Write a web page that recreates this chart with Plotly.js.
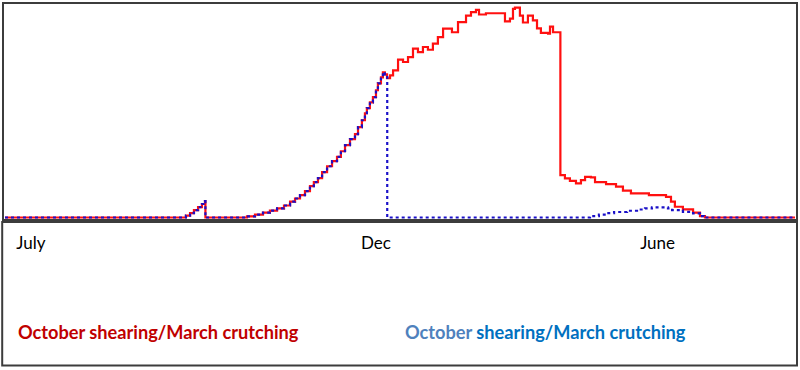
<!DOCTYPE html>
<html>
<head>
<meta charset="utf-8">
<script src="https://cdn.plot.ly/plotly-3.0.1.min.js"></script>
<style>
html,body{margin:0;padding:0;background:#fff;}
#chart{width:800px;height:370px;}
</style>
</head>
<body>
<div id="chart"></div>
<script>
// Day of season (0 = start of July) and relative level (0-100)
const redDays = [0,82.2,83.6,85.5,87.3,89.2,91.0,92.4,92.6,111.8,115.5,119.2,122.4,125.7,128.9,131.7,134.0,136.3,138.6,140.9,142.7,144.6,146.5,148.8,151.1,153.4,155.2,157.1,159.4,161.7,163.1,164.9,166.3,167.2,168.6,170.0,171.4,172.3,173.7,174.6,175.5,176.5,177.9,179.3,181.6,183.9,186.2,188.5,190.8,193.1,195.4,197.7,200.0,202.4,206.5,209.3,213.0,215.3,217.6,219.0,222.2,231.0,233.3,234.7,235.6,237.9,239.3,241.6,243.9,245.8,247.6,250.9,251.8,253.2,256.6,258.7,261.0,263.8,266.1,268.0,270.7,272.6,277.7,282.3,285.5,289.2,297.5,305.4,307.7,309.5,313.2,317.9,321.1,323.4,365];
const redLevel = [0,0,0.9,2.1,3.5,4.9,6.4,7.8,0,0.5,1.4,2.3,3.3,4.3,5.7,7.5,9.0,10.6,12.5,14.9,16.8,18.7,21.5,24.3,26.7,28.7,31.4,34.3,37.1,39.5,42.8,46.1,49.4,51.8,54.6,57.0,60.3,63.6,66.4,68.8,67.8,66.0,67.4,69.7,74.8,73.7,76.0,80.0,78.4,80.8,79.5,82.4,85.5,89.5,87.8,92.6,95.7,97.3,98.4,96.2,96.8,92.9,94.2,98.9,99.5,95.7,92.4,95.7,93.4,89.6,87.5,87.1,90.5,87.8,20.1,18.5,17.4,16.2,17.7,19.3,19.0,16.8,15.8,14.6,12.7,11.4,10.6,9.8,7.5,5.1,3.9,2.3,0.7,0,0];

const blueDays = [0,82.2,83.6,85.5,87.3,89.2,91.0,92.4,92.6,111.8,115.5,119.2,122.4,125.7,128.9,131.7,134.0,136.3,138.6,140.9,142.7,144.6,146.5,148.8,151.1,153.4,155.2,157.1,159.4,161.7,163.1,164.9,166.3,167.2,168.6,170.0,171.4,172.3,173.7,174.6,175.5,176.6,270.3,274.4,277.7,281.4,287.4,292.0,295.7,298.9,306.3,308.2,313.2,317.9,321.1,322.9,365];
const blueLevel = [0,0,0.9,2.1,3.5,4.9,6.4,7.8,0,0.5,1.4,2.3,3.3,4.3,5.7,7.5,9.0,10.6,12.5,14.9,16.8,18.7,21.5,24.3,26.7,28.7,31.4,34.3,37.1,39.5,42.8,46.1,49.4,51.8,54.6,57.0,60.3,63.6,66.4,68.8,67.8,0,0.7,1.4,2.1,2.6,3.2,3.8,4.3,4.8,4.3,3.5,2.7,2.0,0.7,0,0];

const tickDays = [12, 171.4, 301.5];
const tickLabels = ['July', 'Dec', 'June'];

const redName = 'October shearing/March crutching';
const blueNameA = 'October';
const blueNameB = 'shearing/March crutching';

const traces = [
  {x: redDays, y: redLevel, type: 'scatter', mode: 'lines',
   line: {shape: 'hv', color: '#ff1010', width: 2.2}, hoverinfo: 'skip'},
  {x: blueDays, y: blueLevel, type: 'scatter', mode: 'lines',
   line: {shape: 'hv', color: '#1a10c8', width: 2.2, dash: 'dot'}, hoverinfo: 'skip'}
];

const layout = {
  width: 800, height: 370,
  margin: {l: 3, r: 3, t: 3, b: 150, pad: 0},
  paper_bgcolor: '#ffffff', plot_bgcolor: '#ffffff',
  showlegend: false,
  xaxis: {range: [-0.92, 365.92], showgrid: false, zeroline: false, showline: false,
    tickmode: 'array', tickvals: tickDays, ticktext: tickLabels, ticks: '',
    ticklabelstandoff: 11,
    tickfont: {family: 'Lato, sans-serif', size: 17, color: '#000'}, fixedrange: true},
  yaxis: {range: [-1.18, 101.65], showgrid: false, zeroline: false, showline: false,
    showticklabels: false, ticks: '', fixedrange: true},
  shapes: [
    {type: 'rect', xref: 'paper', yref: 'paper', x0: 0, x1: 1, y0: 0, y1: 1,
     line: {color: '#3c3c3c', width: 2}},
    {type: 'rect', xref: 'paper', yref: 'paper', x0: -0.001, x1: 1, y0: -0.0092, y1: -0.671,
     line: {color: '#3c3c3c', width: 2}}
  ],
  annotations: [
    {xref: 'paper', yref: 'paper', x: 0.0164, y: -0.516, xanchor: 'left', yanchor: 'middle',
     showarrow: false, text: '<b>' + redName + '</b>',
     font: {family: 'Lato, sans-serif', size: 18.2, color: '#c00000'}},
    {xref: 'paper', yref: 'paper', x: 0.5035, y: -0.516, xanchor: 'left', yanchor: 'middle',
     showarrow: false,
     text: '<b><span style="color:#4f81bd">' + blueNameA + '</span> ' + blueNameB + '</b>',
     font: {family: 'Lato, sans-serif', size: 18.2, color: '#0070c0'}}
  ]
};

Plotly.newPlot('chart', traces, layout, {displayModeBar: false, staticPlot: true});
</script>
</body>
</html>
